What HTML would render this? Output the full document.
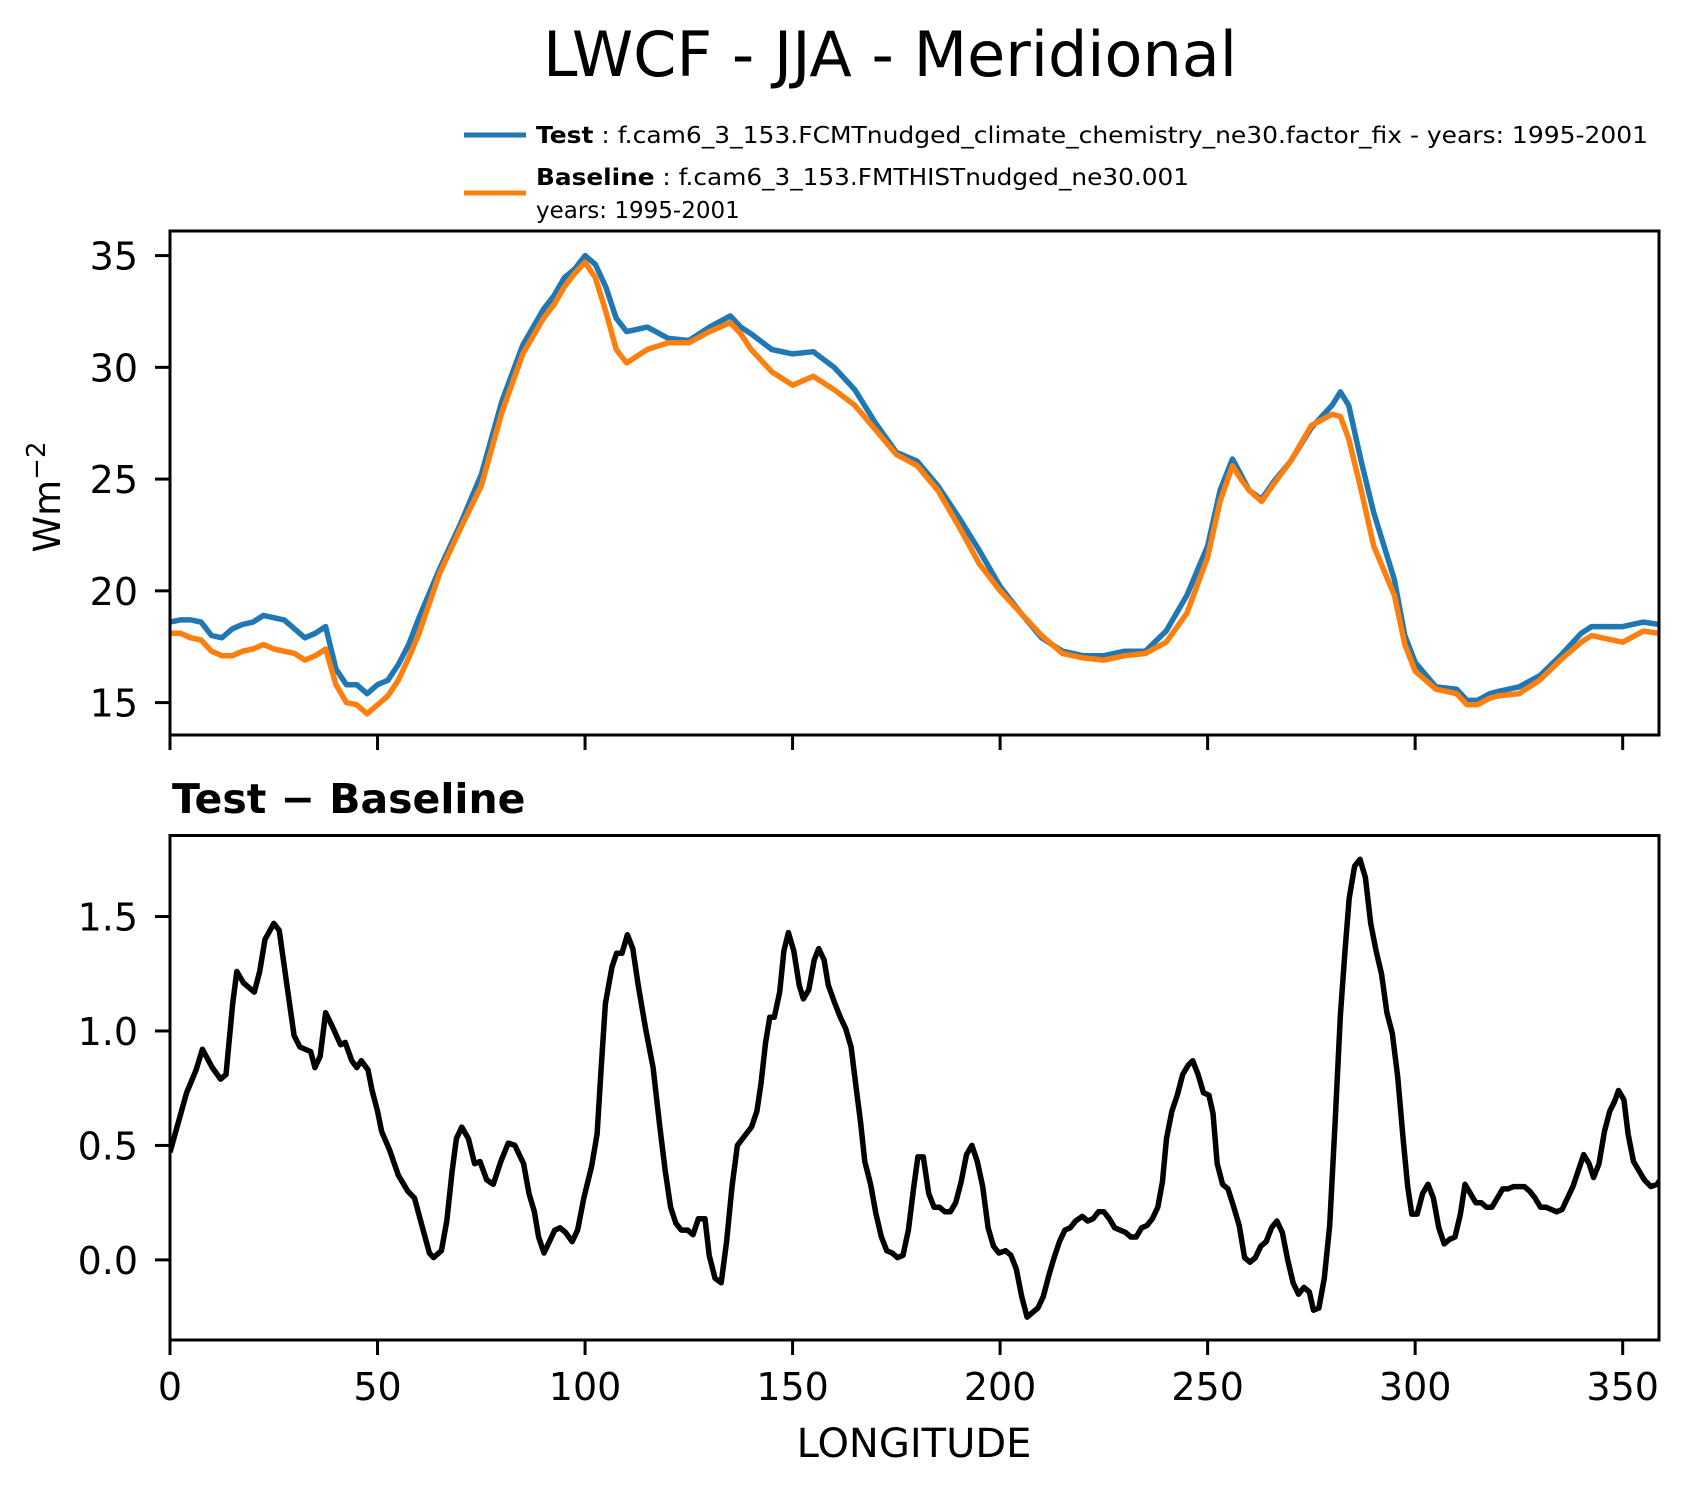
<!DOCTYPE html>
<html><head><meta charset="utf-8"><style>
html,body{margin:0;padding:0;background:#fff;}
svg{display:block;font-family:"DejaVu Sans","Liberation Sans",sans-serif;}
</style></head><body>
<svg id="chart" width="1691" height="1496" viewBox="0 0 1691 1496" xmlns="http://www.w3.org/2000/svg">
<rect width="1691" height="1496" fill="#fff"/>
<text x="890" y="76" font-size="62" text-anchor="middle">LWCF - JJA - Meridional</text>
<g>
<line x1="464" y1="135" x2="526" y2="135" stroke="#1f77b4" stroke-width="5"/>
<text x="536" y="143" font-size="23" textLength="1112" lengthAdjust="spacingAndGlyphs"><tspan font-weight="bold">Test</tspan> : f.cam6_3_153.FCMTnudged_climate_chemistry_ne30.factor_fix - years: 1995-2001</text>
<line x1="464" y1="193" x2="526" y2="193" stroke="#ff7f0e" stroke-width="5"/>
<text x="536" y="185" font-size="23" textLength="653" lengthAdjust="spacingAndGlyphs"><tspan font-weight="bold">Baseline</tspan> : f.cam6_3_153.FMTHISTnudged_ne30.001</text>
<text x="536" y="218" font-size="23">years: 1995-2001</text>
</g>
<g id="top"></g>
<g id="bot"></g>
<text transform="translate(60,497) rotate(-90)" font-size="37" text-anchor="middle">Wm<tspan dy="-15" font-size="26">−2</tspan></text>
<text x="172" y="813" font-size="41" font-weight="bold">Test − Baseline</text>
<text x="914" y="1457" font-size="40" text-anchor="middle">LONGITUDE</text>
</svg>
<script>
const topLon=[0,2.5,5,7.5,10,12.5,15,17.5,20,22.5,25,27.5,30,32.5,35,37.5,40,42.5,45,47.5,50,52.5,55,57.5,60,65,70,75,80,85,90,92.5,95,97.5,100,102.5,105,107.5,110,115,120,125,130,135,137.5,140,145,150,155,160,165,170,175,180,185,190,195,200,205,210,215,220,225,230,235,240,245,250,253,256,258,260,263,266,270,275,280,282,284,287,290,295,297.5,300,305,310,312.5,315,318,320,325,330,335,340,342.5,345,350,355,358.75];
const testVals=[18.6,18.7,18.7,18.6,18.0,17.9,18.3,18.5,18.6,18.9,18.8,18.7,18.3,17.9,18.1,18.4,16.5,15.8,15.8,15.4,15.8,16.0,16.7,17.6,18.8,21.0,23.0,25.2,28.5,31.0,32.6,33.2,34.0,34.4,35.0,34.6,33.6,32.2,31.6,31.8,31.3,31.2,31.8,32.3,31.8,31.5,30.8,30.6,30.7,30.0,29.0,27.5,26.2,25.8,24.7,23.3,21.8,20.2,19.0,17.9,17.3,17.1,17.1,17.3,17.3,18.2,19.8,22.0,24.5,25.9,25.2,24.5,24.1,24.9,25.8,27.3,28.3,28.9,28.3,25.8,23.5,20.5,18.0,16.8,15.7,15.6,15.1,15.1,15.4,15.5,15.7,16.2,17.1,18.1,18.4,18.4,18.4,18.6,18.5];
const baseVals=[18.1,18.1,17.9,17.8,17.3,17.1,17.1,17.3,17.4,17.6,17.4,17.3,17.2,16.9,17.1,17.4,15.8,15.0,14.9,14.5,14.9,15.3,16.0,17.0,18.1,20.8,22.8,24.7,28.0,30.6,32.2,32.8,33.6,34.2,34.7,34.0,32.5,30.8,30.2,30.8,31.1,31.1,31.6,32.0,31.5,30.8,29.8,29.2,29.6,29.0,28.3,27.2,26.1,25.6,24.5,22.9,21.2,20.0,19.0,18.0,17.2,17.0,16.9,17.1,17.2,17.7,19.0,21.5,24.0,25.6,25.0,24.5,24.0,24.8,25.8,27.4,27.9,27.8,26.8,24.5,22.0,19.8,17.6,16.4,15.6,15.4,14.9,14.9,15.2,15.3,15.4,16.0,16.9,17.7,18.0,17.9,17.7,18.2,18.1];
const diffLon=[0,2,4,6.3,7.8,10.2,12.2,13.5,15.1,16.1,17.7,20.3,21.6,22.9,25,26.3,28.1,29.9,31.3,33.9,34.9,36.2,37.5,39.1,41.1,42.2,43.8,45,46.1,47.7,48.7,50,51,52.9,55,57.3,58.9,60.7,62.5,63.5,65.4,66.7,68,69,70.3,71.9,73.4,74.7,76.3,77.9,79.7,81.5,83.1,85.2,86.5,87.8,88.8,90.1,91.4,92.7,94,95.3,96.9,98.2,99.7,101.6,102.9,103.9,104.9,106.5,107.6,108.9,110.2,111.5,112.8,114.6,116.4,117.9,119.3,120.6,121.9,123.2,124.7,126,127.3,128.9,129.9,131.3,132.8,134.1,135.4,136.7,138.8,140.1,141.4,142.4,143.5,144.5,145.6,146.9,147.9,149,150.3,151.6,152.6,153.9,155.2,156.3,157.6,158.6,160.2,161.5,162.8,164.1,165.4,166.4,167.4,168.8,170.1,171.4,172.7,174,175.3,176.6,177.9,179.2,180.2,181.5,182.8,184.1,185.4,186.7,188,189.3,190.6,191.9,193.2,194.5,195.8,197.1,198.4,199.7,201.3,202.6,203.9,205.2,206.5,207.8,209.1,210.4,211.7,213,214.3,215.6,216.9,218.2,219.8,221.1,222.4,223.7,225,226.3,227.6,228.9,230.2,231.5,232.8,234.1,235.4,236.7,238,239.1,240.1,241.4,242.7,244,245.3,246.4,247.7,249,250.3,251.3,252.3,253.6,254.9,256.3,257.6,258.9,260.2,261.5,262.8,264.1,265.4,266.7,268,269.3,270.6,271.9,273.2,274.5,275.5,276.8,278.1,279.4,280.7,282,283.1,284.1,285.4,286.7,288,289.3,290.6,291.9,293.2,294.5,295.8,297.1,298.2,299.2,300.5,301.8,303.1,304.4,305.7,307,308.3,309.6,310.9,312,313.3,314.6,315.9,317.2,318.5,319.8,321.1,322.4,323.7,325,326.3,327.6,328.9,330.2,331.5,332.8,334.1,335.4,336.7,338,339.3,340.6,341.9,343,344.3,345.6,346.9,348,349,350.3,351.3,352.6,353.9,355.2,356.8,358.3,359.4];
const diffVals=[0.47,0.6,0.73,0.83,0.92,0.84,0.79,0.81,1.12,1.26,1.21,1.17,1.26,1.40,1.47,1.44,1.21,0.98,0.93,0.91,0.84,0.89,1.08,1.02,0.94,0.95,0.87,0.84,0.87,0.83,0.74,0.65,0.56,0.48,0.37,0.30,0.27,0.15,0.03,0.01,0.04,0.17,0.39,0.53,0.58,0.53,0.42,0.43,0.35,0.33,0.43,0.51,0.50,0.42,0.29,0.21,0.10,0.03,0.08,0.13,0.14,0.12,0.08,0.13,0.27,0.41,0.55,0.84,1.12,1.28,1.34,1.34,1.42,1.36,1.20,1.01,0.84,0.60,0.39,0.23,0.16,0.13,0.13,0.11,0.18,0.18,0.02,-0.08,-0.10,0.08,0.32,0.50,0.55,0.58,0.65,0.77,0.95,1.06,1.06,1.17,1.35,1.43,1.35,1.20,1.14,1.18,1.31,1.36,1.31,1.20,1.12,1.06,1.01,0.93,0.74,0.60,0.43,0.33,0.20,0.10,0.04,0.03,0.01,0.02,0.13,0.32,0.45,0.45,0.29,0.23,0.23,0.21,0.21,0.25,0.34,0.46,0.50,0.43,0.32,0.14,0.06,0.03,0.04,0.02,-0.04,-0.16,-0.25,-0.23,-0.21,-0.16,-0.07,0.01,0.08,0.13,0.14,0.17,0.19,0.17,0.18,0.21,0.21,0.18,0.14,0.13,0.12,0.10,0.10,0.14,0.15,0.18,0.23,0.34,0.53,0.65,0.72,0.81,0.85,0.87,0.81,0.73,0.72,0.64,0.42,0.33,0.31,0.23,0.15,0.01,-0.01,0.01,0.06,0.08,0.14,0.17,0.12,0.00,-0.10,-0.15,-0.12,-0.14,-0.22,-0.21,-0.08,0.15,0.60,1.07,1.35,1.58,1.72,1.75,1.67,1.47,1.35,1.25,1.08,0.99,0.80,0.53,0.32,0.20,0.20,0.29,0.33,0.27,0.14,0.07,0.09,0.10,0.20,0.33,0.29,0.25,0.25,0.23,0.23,0.27,0.31,0.31,0.32,0.32,0.32,0.30,0.27,0.23,0.23,0.22,0.21,0.22,0.27,0.32,0.39,0.46,0.42,0.36,0.42,0.56,0.65,0.69,0.74,0.70,0.55,0.43,0.39,0.35,0.32,0.33,0.36];
const xTicks=[0,50,100,150,200,250,300,350];
const topYTicks=[15,20,25,30,35];
const botYTicks=[0.0,0.5,1.0,1.5];
const botYLabels=["0.0","0.5","1.0","1.5"];

const NS="http://www.w3.org/2000/svg";
const L=170,R=1659,XMIN=0,XMAX=358.75;
const xs=v=>L+(v-XMIN)/(XMAX-XMIN)*(R-L);
function mk(tag,attrs,parent){const e=document.createElementNS(NS,tag);for(const k in attrs)e.setAttribute(k,attrs[k]);parent.appendChild(e);return e;}
function panel(g,top,bot,ymin,ymax,yticks,ylabels,showX){
  const ys=v=>bot-(v-ymin)/(ymax-ymin)*(bot-top);
  yticks.forEach((t,i)=>{
    const ln=mk('line',{x1:L-15,x2:L,y1:ys(t),y2:ys(t),stroke:'#000','stroke-width':3},g);
    
    
    const tx=mk('text',{x:L-32,y:ys(t)+14,'font-size':38,'text-anchor':'end'},g);
    
    
    tx.textContent=ylabels[i];
  });
  xTicks.forEach(t=>{
    const ln=mk('line',{x1:xs(t),x2:xs(t),y1:bot,y2:bot+15,stroke:'#000','stroke-width':3},g);
    
    
    if(showX){
      const tx=mk('text',{x:xs(t),y:bot+60,'font-size':38,'text-anchor':'middle'},g);
      
      
      tx.textContent=String(t);
    }
  });
  return ys;
}
function series(g,lons,vals,ys,color,name,clip){
  const d=lons.map((x,i)=>(i?'L':'M')+xs(x).toFixed(1)+','+ys(vals[i]).toFixed(1)).join(' ');
  const p=mk('path',{d:d,fill:'none',stroke:color,'stroke-width':5.5,'stroke-linejoin':'round','clip-path':'url(#'+clip+')'},g);
  
  
}
const TT=231,TB=735,BT=835.5,BB=1340;
const svg=document.getElementById('chart');
const defs=mk('defs',{},svg);
const c1=mk('clipPath',{id:'c1'},defs);mk('rect',{x:L,y:TT,width:R-L,height:TB-TT},c1);
const c2=mk('clipPath',{id:'c2'},defs);mk('rect',{x:L,y:BT,width:R-L,height:BB-BT},c2);
const gt=document.getElementById('top'),gb=document.getElementById('bot');
const ysT=panel(gt,TT,TB,13.55,36.1,topYTicks,topYTicks.map(String),false);
series(gt,topLon,testVals,ysT,'#1f77b4','test-line','c1');
series(gt,topLon,baseVals,ysT,'#ff7f0e','baseline-line','c1');
const f1=mk('rect',{x:L,y:TT,width:R-L,height:TB-TT,fill:'none',stroke:'#000','stroke-width':3},gt);


const ysB=panel(gb,BT,BB,-0.350,1.854,botYTicks,botYLabels,true);
series(gb,diffLon,diffVals,ysB,'#000','difference-line','c2');
const f2=mk('rect',{x:L,y:BT,width:R-L,height:BB-BT,fill:'none',stroke:'#000','stroke-width':3},gb);


</script>
</body></html>
